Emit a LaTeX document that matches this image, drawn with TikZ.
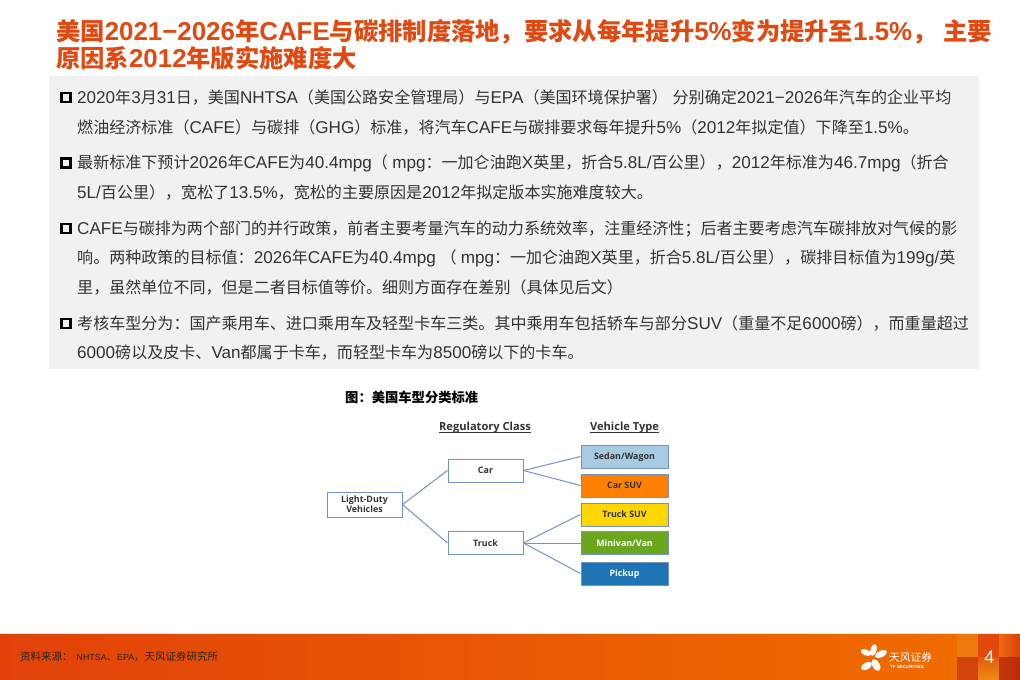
\documentclass[tikz,border=0pt]{standalone}
\usepackage{fontspec}
\setmainfont{Liberation Sans}[Scale=1.065]
\newfontfamily\latinfont{Liberation Sans}[Scale=1.065]
\newfontfamily\cjkfont{Noto Sans CJK SC}
\newfontfamily\typefont{Open Sans}
% han and fullwidth characters switch to the cjk family by themselves
\XeTeXinterchartokenstate=1
\newXeTeXintercharclass\cjkclass
\newcount\cjkcode
\cjkcode="3000
\loop \XeTeXcharclass\cjkcode=\cjkclass \ifnum\cjkcode<"9FFF \advance\cjkcode by 1 \repeat
\cjkcode="FF00
\loop \XeTeXcharclass\cjkcode=\cjkclass \ifnum\cjkcode<"FFEF \advance\cjkcode by 1 \repeat
\XeTeXinterchartoks 0 \cjkclass={\cjkfont}
\XeTeXinterchartoks 4095 \cjkclass={\cjkfont}
\XeTeXinterchartoks \cjkclass 0={\latinfont}
\XeTeXinterchartoks \cjkclass 4095={\latinfont}
\usetikzlibrary{positioning,calc}
\definecolor{titlered}{HTML}{E04A12}
\definecolor{panelgray}{HTML}{F1F1F1}
\definecolor{bodygray}{HTML}{333333}
\definecolor{boxblue}{HTML}{7391C4}
\definecolor{sedanblue}{HTML}{A6CBE2}
\definecolor{suvorange}{HTML}{FF7F00}
\definecolor{truckyellow}{HTML}{FFD700}
\definecolor{vangreen}{HTML}{6AA61E}
\definecolor{pickupblue}{HTML}{1F74B4}
\definecolor{bandleft}{HTML}{E2420A}
\definecolor{bandright}{HTML}{EF6C00}
\definecolor{tileA}{HTML}{EE7A0F}
\definecolor{tileB}{HTML}{D2430E}
\definecolor{tileC}{HTML}{E2490F}
\definecolor{tileD}{HTML}{E25A0F}
\definecolor{tileE}{HTML}{F08A12}
\definecolor{tileF}{HTML}{EE6A10}
\definecolor{tileG}{HTML}{D9400F}
\definecolor{tileH}{HTML}{BF3A0C}
\definecolor{tileI}{HTML}{C0280A}
\newcommand{\srcfont}{\fontsize{8.3}{11}\selectfont}
\tikzset{
  titleline/.style={anchor=west,inner sep=0pt,text=titlered,font=\fontsize{24.3}{24}\selectfont\bfseries},
  bodyline/.style={anchor=west,inner sep=0pt,text=bodygray,font=\fontsize{16.05}{16}\selectfont},
  bulletbox/.style={draw=black,line width=2.2pt,minimum size=9pt,inner sep=0pt},
  classbox/.style={draw=boxblue,line width=1pt,fill=white,text=black!80,inner sep=0pt,align=center,
    font=\typefont\fontsize{8.9}{9.8}\selectfont\bfseries},
  labelbox/.style={classbox,text depth=0pt},
  typebox/.style={labelbox,minimum width=87pt,minimum height=23pt},
  headline/.style={inner sep=0pt,text=black!80,font=\typefont\fontsize{11.1}{12}\selectfont\bfseries},
  headrule/.style={draw=black!80,line width=0.7pt},
  link/.style={draw=boxblue,line width=1pt},
  petal/.style={fill=white,draw=none},
}
\begin{document}
\begin{tikzpicture}[x=1pt,y=-1pt]
  \useasboundingbox (0,0) rectangle (1020,680);
  % title
  \node[titleline] (titleA) at (56,32) {美国2021−2026年CAFE与碳排制度落地，要求从每年提升5\%变为提升至1.5\%， 主要};
  \node[titleline] (titleB) at (56,58) {原因系2012年版实施难度大};
  % grey panel with the text lines
  \fill[panelgray] (49,76) rectangle (979,369);
  \foreach \n/\y/\t in {
    1/97.5/{2020年3月31日，美国NHTSA（美国公路安全管理局）与EPA（美国环境保护署） 分别确定2021−2026年汽车的企业平均},
    2/127.5/{燃油经济标准（CAFE）与碳排（GHG）标准，将汽车CAFE与碳排要求每年提升5\%（2012年拟定值）下降至1.5\%。},
    3/163/{最新标准下预计2026年CAFE为40.4mpg（\kern4.5pt mpg：一加仑油跑X英里，折合5.8L/百公里），2012年标准为46.7mpg（折合},
    4/192.5/{5L/百公里），宽松了13.5\%，宽松的主要原因是2012年拟定版本实施难度较大。},
    5/229/{CAFE与碳排为两个部门的并行政策，前者主要考量汽车的动力系统效率，注重经济性；后者主要考虑汽车碳排放对气候的影},
    6/258/{响。两种政策的目标值：2026年CAFE为40.4mpg （\kern4pt mpg：一加仑油跑X英里，折合5.8L/百公里），碳排目标值为199g/英},
    7/287/{里，虽然单位不同，但是二者目标值等价。细则方面存在差别（具体见后文）},
    8/323.5/{考核车型分为：国产乘用车、进口乘用车及轻型卡车三类。其中乘用车包括轿车与部分SUV（重量不足6000磅），而重量超过},
    9/353/{6000磅以及皮卡、Van都属于卡车，而轻型卡车为8500磅以下的卡车。}}{
    \node[bodyline] (line\n) at (77,\y) {\t};
  }
  \foreach \n/\y in {1/97.5,3/163,5/228.5,8/323.5}{
    \node[bulletbox] (bullet\n) at (66,\y) {};
  }
  % diagram
  \node[anchor=west,inner sep=0pt,text=black,font=\fontsize{13.3}{14}\selectfont\bfseries] (caption) at (345,397) {图：美国车型分类标准};
  \node[headline] (classhead) at (485,428) {Regulatory Class};
  \node[headline] (typehead) at (624.5,428) {Vehicle Type};
  \foreach \h in {classhead,typehead}{
    \draw[headrule] ($(\h.base west)+(0,1.6)$) -- ($(\h.base east)+(0,1.6)$);
  }
  \node[classbox,minimum width=75pt,minimum height=25pt] (duty) at (364.5,504.5) {Light-Duty\\Vehicles};
  \node[labelbox,minimum width=75pt,minimum height=23pt] (car) at (485.5,470.5) {Car};
  \node[labelbox,minimum width=75pt,minimum height=23pt] (truck) at (485.5,543) {Truck};
  \node[typebox,fill=sedanblue] (sedan) at (624.5,456.5) {Sedan/Wagon};
  \node[typebox,fill=suvorange] (carsuv) at (624.5,485.5) {Car SUV};
  \node[typebox,fill=truckyellow] (trucksuv) at (624.5,514.5) {Truck SUV};
  \node[typebox,fill=vangreen,text=white] (minivan) at (624.5,543) {Minivan/Van};
  \node[typebox,fill=pickupblue,text=white] (pickup) at (624.5,573.5) {Pickup};
  \foreach \a/\b in {duty/car,duty/truck,car/sedan,car/carsuv,truck/trucksuv,truck/minivan,truck/pickup}{
    \draw[link] (\a.east) -- (\b.west);
  }
  % footer band
  \fill[orange!25] (0,633) rectangle (1020,634);
  \shade[left color=bandleft,right color=bandright] (0,634) rectangle (957,680);
  \fill[tileA] (957,634) rectangle (978,657);
  \fill[tileB] (957,657) rectangle (978,680);
  \fill[tileC] (978,634) rectangle (999,657);
  \shade[top color=tileD,bottom color=tileE] (978,657) rectangle (999,680);
  \shade[left color=tileF,right color=tileG] (999,634) rectangle (1020,657);
  \shade[left color=tileH,right color=tileI] (999,657) rectangle (1020,680);
  \node[anchor=west,inner sep=0pt,text=black!85,font=\fontsize{10.5}{11}\selectfont] (source) at (20,657) {资料来源：\kern4pt{\srcfont NHTSA}、{\srcfont EPA}，天风证券研究所};
  \node[inner sep=0pt,text=white,font=\fontsize{17}{17}\selectfont] (page) at (989.5,657) {4};
  % logo flower
  \foreach \x/\y/\a/\w/\h in {866/652.5/-20/5.5/3, 873.5/650/75/6/3, 881/654/25/6.5/3.2, 876/665/-60/6.5/3.6, 866.5/666/30/6/3.4}{
    \fill[petal,rotate around={\a:(\x,\y)}] (\x,\y) ellipse (\w pt and \h pt);
  }
  \node[anchor=west,inner sep=0pt,text=white,font=\fontsize{10.7}{12}\selectfont] (brand) at (889,657) {天风证券};
  \node[anchor=west,inner sep=0pt,text=white,font=\fontsize{4.2}{5}\selectfont\bfseries] (brandsub) at (890,667) {TF SECURITIES};
\end{tikzpicture}
\end{document}
